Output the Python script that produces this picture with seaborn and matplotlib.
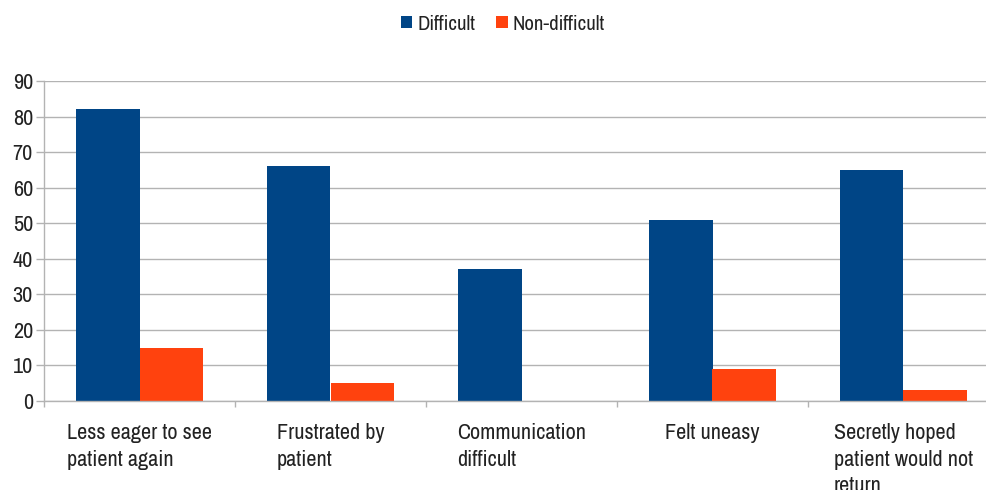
import matplotlib
matplotlib.use("Agg")
import matplotlib.pyplot as plt
from matplotlib.patches import Patch
import seaborn as sns
import pandas as pd
import numpy as np

categories = ["Less eager to see\npatient again", "Frustrated by\npatient",
              "Communication\ndifficult", "Felt uneasy",
              "Secretly hoped\npatient would not\nreturn"]
difficult = [82, 66, 37, 51, 65]
non_difficult = [15, 5, 0, 9, 3]
series_names = ["Difficult", "Non-difficult"]
colors = ["#004586", "#ff420e"]

df = pd.DataFrame({
    "cat": categories * 2,
    "val": difficult + non_difficult,
    "series": [series_names[0]] * len(categories) + [series_names[1]] * len(categories),
})

sns.set_theme(style="white")
font = ["Archivo Narrow", "Liberation Sans", "DejaVu Sans"]
plt.rcParams["font.family"] = font

fig = plt.figure(figsize=(9.86, 4.9), dpi=100)
ax = fig.add_axes([44 / 986, (490 - 401) / 490, 1 - 44 / 986, (401 - 81) / 490])

sns.barplot(data=df, x="cat", y="val", hue="series", palette=colors,
            width=0.665, ax=ax, legend=False, saturation=1, linewidth=0)

ax.set_xlabel("")
ax.set_ylabel("")
ax.yaxis.grid(True, color="#b3b3b3", linewidth=1)
ax.set_axisbelow(True)
for s in ["top", "right"]:
    ax.spines[s].set_visible(False)
for s in ["left", "bottom"]:
    ax.spines[s].set_color("#b3b3b3")
    ax.spines[s].set_linewidth(1)

ax.set_yticks(range(0, 91, 10))
ax.tick_params(axis="y", left=True, length=6, color="#b3b3b3", width=1,
               labelsize=16, pad=2, labelcolor="#222222")
ax.set_xticks(np.arange(len(categories)))
ax.set_xticklabels(categories, fontsize=16, color="#222222", ha="center",
                   multialignment="left", linespacing=1.4)
ax.tick_params(axis="x", which="major", bottom=True, length=0, pad=16)
ax.set_xticks(np.arange(-0.5, len(categories), 1.0), minor=True)
ax.tick_params(axis="x", which="minor", bottom=True, length=4.5, color="#b3b3b3", width=1)

# limits last, since set_xticks may expand them
ax.set_ylim(0, 90)
ax.set_xlim(-0.5, -0.5 + 942 / 191)

handles = [Patch(facecolor=c, edgecolor="none") for c in colors]
fig.legend(handles, series_names, loc="center", bbox_to_anchor=(503 / 986, 1 - 24 / 490),
           ncol=2, frameon=False, fontsize=15, handlelength=0.55, handleheight=0.55,
           handletextpad=0.25, columnspacing=1.0, labelcolor="#222222")

fig.savefig("out.png", dpi=100)
